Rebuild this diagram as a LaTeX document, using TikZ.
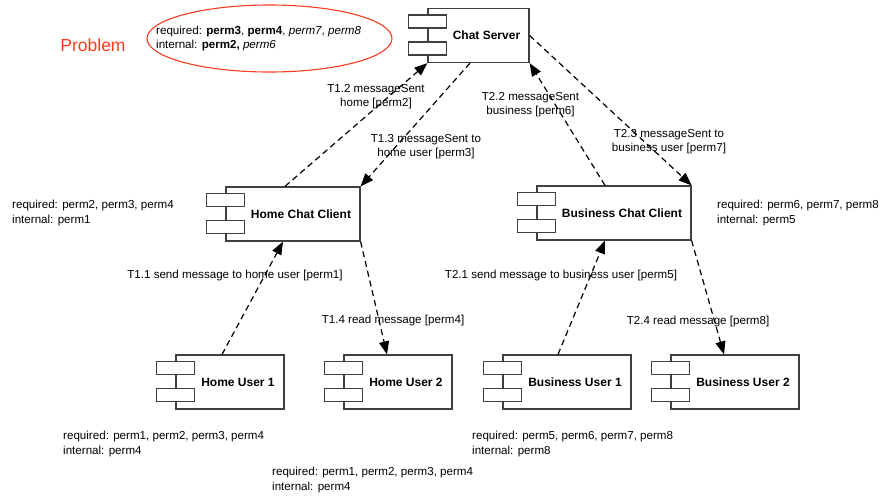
\documentclass[tikz,border=0pt]{standalone}
\usepackage{fontspec}
\setmainfont{Liberation Sans}
\usetikzlibrary{calc,arrows.meta}

\definecolor{problemred}{RGB}{250,60,30}

\begin{document}
\begin{tikzpicture}[
        x=1pt, y=-1pt,
        font=\fontsize{11.6}{15}\selectfont,
        comp/.style={draw=black!75, line width=1.2pt, fill=white, rectangle, minimum height=54pt, font=\fontsize{12}{14}\selectfont\bfseries, execute at begin node={\hspace*{16pt}}},
        port/.style={draw=black!75, line width=1.2pt, fill=white},
        msg/.style={-{Triangle[length=13pt,width=10pt]}, dash pattern=on 6pt off 4pt, line width=1.2pt},
        perms/.style={anchor=west, align=left, inner sep=0pt},
        lbl/.style={align=center, inner sep=0pt, font=\fontsize{11.6}{14}\selectfont}
    ]
        \useasboundingbox (0,0) rectangle (885,499);

        % Problem note
        \node[text=problemred, font=\fontsize{17.5}{20}\selectfont] (problem) at (93,45) {Problem};
        \node[perms, font=\fontsize{11.6}{14}\selectfont] (probperms) at (156,38) {required: \textbf{perm3}, \textbf{perm4}, \textit{perm7}, \textit{perm8}\\internal: \textbf{perm2,} \textit{perm6}};
        \draw[problemred, line width=1.1pt] (269.5,38.5) ellipse [x radius=122.5, y radius=33.5];

        % Server
        \node[comp, minimum width=101pt] (server) at (478.5,35.5) {Chat Server};

        % Clients
        \node[comp, minimum width=134pt] (hcc) at (293,214) {Home Chat Client};
        \node[comp, minimum width=154pt] (bcc) at (614,213) {Business Chat Client};

        % Users
        \node[comp, minimum width=108pt] (hu1) at (230,382) {Home User 1};
        \node[comp, minimum width=108pt] (hu2) at (398,382) {Home User 2};
        \node[comp, minimum width=128pt] (bu1) at (567,382) {Business User 1};
        \node[comp, minimum width=128pt] (bu2) at (735,382) {Business User 2};

        % component ports
        \foreach \c in {server,hcc,bcc,hu1,hu2,bu1,bu2} {
            \draw[port] ($(\c.north west)+(-19,7)$) rectangle ++(38,13);
            \draw[port] ($(\c.north west)+(-19,34)$) rectangle ++(38,13);
        }

        % Permissions
        \node[perms] (hccperms) at (12,212.5) {required: perm2, perm3, perm4\\internal: perm1};
        \node[perms] (bccperms) at (717,212.5) {required: perm6, perm7, perm8\\internal: perm5};
        \node[perms] (hu1perms) at (63,443.5) {required: perm1, perm2, perm3, perm4\\internal: perm4};
        \node[perms] (hu2perms) at (272,480) {required: perm1, perm2, perm3, perm4\\internal: perm4};
        \node[perms] (bu1perms) at (472,443.5) {required: perm5, perm6, perm7, perm8\\internal: perm8};

        % Message labels
        \node[lbl] (t11) at (235,275) {T1.1 send message to home user [perm1]};
        \node[lbl] (t12) at (376,97) {T1.2 messageSent\\home [perm2]};
        \node[lbl] (t13) at (426,146.5) {T1.3 messageSent to\\home user [perm3]};
        \node[lbl] (t14) at (393,320) {T1.4 read message [perm4]};
        \node[lbl] (t21) at (561,275) {T2.1 send message to business user [perm5]};
        \node[lbl] (t22) at (530.5,104.5) {T2.2 messageSent\\business [perm6]};
        \node[lbl] (t23) at (669,142) {T2.3 messageSent to\\business user [perm7]};
        \node[lbl] (t24) at (698,321) {T2.4 read message [perm8]};

        % Messages
        \draw[msg] ([xshift=-8pt]hu1.north) -- ([xshift=-10pt]hcc.south);
        \draw[msg] ([xshift=-8pt]hcc.north) -- (server.south west);
        \draw[msg] ([xshift=-8.5pt]server.south) -- (hcc.north east);
        \draw[msg] (hcc.south east) -- ([xshift=-11pt]hu2.north);
        \draw[msg] ([xshift=-9pt]bu1.north) -- ([xshift=-9pt]bcc.south);
        \draw[msg] ([xshift=-9pt]bcc.north) -- (server.south east);
        \draw[msg] (server.east) -- (bcc.north east);
        \draw[msg] (bcc.south east) -- ([xshift=-11pt]bu2.north);
    \end{tikzpicture}
\end{document}
